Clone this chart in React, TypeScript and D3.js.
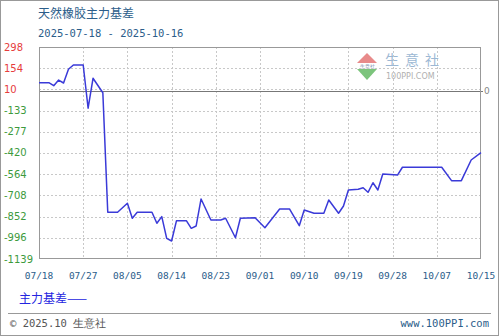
import React from "react";
import * as d3 from "d3";

const title = "天然橡胶主力基差";
const subtitle = "2025-07-18 - 2025-10-16";
const startDate = "2025-07-18";

const dates = [
  "2025-07-18", "2025-07-20", "2025-07-21", "2025-07-22", "2025-07-23", "2025-07-24", "2025-07-25",
  "2025-07-27", "2025-07-28", "2025-07-29", "2025-07-31", "2025-08-01", "2025-08-03", "2025-08-05",
  "2025-08-06", "2025-08-07", "2025-08-10", "2025-08-11", "2025-08-12", "2025-08-13", "2025-08-14",
  "2025-08-15", "2025-08-17", "2025-08-18", "2025-08-19", "2025-08-20", "2025-08-22", "2025-08-24",
  "2025-08-25", "2025-08-27", "2025-08-28", "2025-08-31", "2025-09-02", "2025-09-05", "2025-09-07",
  "2025-09-09", "2025-09-10", "2025-09-12", "2025-09-14", "2025-09-15", "2025-09-17", "2025-09-18",
  "2025-09-19", "2025-09-21", "2025-09-22", "2025-09-23", "2025-09-24", "2025-09-25", "2025-09-26",
  "2025-09-29", "2025-09-30", "2025-10-08", "2025-10-10", "2025-10-12", "2025-10-14", "2025-10-16",
];
const values = [
  56, 56, 36, 74, 54, 147, 176,
  176, -117, 86, -12, -822, -822, -761,
  -863, -822, -822, -897, -852, -999, -1017,
  -879, -879, -931, -915, -732, -875, -875,
  -863, -995, -863, -859, -927, -800, -800,
  -913, -807, -829, -829, -739, -829, -780,
  -671, -666, -656, -687, -622, -671, -563,
  -570, -517, -517, -608, -608, -468, -418,
];

const yTicks = [298, 154, 10, -133, -277, -420, -564, -708, -852, -996, -1139];
const xTickLabels = ["07/18", "07/27", "08/05", "08/14", "08/23", "09/01", "09/10", "09/19", "09/28", "10/07", "10/15"];
const xTickDays = [0, 9, 18, 27, 36, 45, 54, 63, 72, 81, 90];
const legendLabel = "主力基差——";
const footerLeft = "© 2025.10 生意社";
const footerRight = "www.100PPI.com";

export default function App() {
  const W = 499, H = 336;
  const L = 39, R = 481, T = 47, B = 259;
  const parse = d3.timeParse("%Y-%m-%d");
  const start = parse(startDate)!;
  const days = dates.map((d) => d3.timeDay.count(start, parse(d)!));
  const x = d3.scaleLinear().domain([0, 90]).range([L, R]);
  const y = d3.scaleLinear().domain([-1139, 298]).range([B, T]);
  const line = d3.line<number>().x((_, i) => x(days[i])).y((v) => y(v));
  const path = line(values) || "";
  const mono = "'DejaVu Sans Mono', 'Liberation Mono', monospace";
  const cjk = "'Noto Sans CJK SC', sans-serif";

  return (
    <div style={{ position: "absolute", left: 0, top: 0 }}>
      <svg width={W} height={H} style={{ display: "block", background: "#fff" }}>
        <rect x={0.5} y={0.5} width={W - 1} height={H - 1} fill="#fff" stroke="#999" />
        <text x={38} y={18} fontSize={12} fontFamily={cjk} fill="#2b5d8a">{title}</text>
        <text x={38} y={37} fontSize={10.5} fontFamily={mono} fill="#2b5d8a">{subtitle}</text>

        {/* watermark */}
        <g>
          <path d="M357,63 L367,53 L377,63 Z" fill="#e88a8a" />
          <path d="M357,69 L377,69 L367,80 Z" fill="#7cc47c" />
          <text x={367} y={67.5} fontSize={5} textAnchor="middle" fill="#7a8aa8" fontFamily={mono}>生意社</text>
          <text x={385} y={65} fontSize={14} fontFamily={cjk} fill="#9cb8d4" letterSpacing={6}>生意社</text>
          <text x={386} y={79} fontSize={8} fontFamily="'DejaVu Sans', sans-serif" fill="#b0b0b0">100PPI.COM</text>
        </g>

        {/* grid */}
        {yTicks.slice(1, -1).map((t) => (
          <line key={"h" + t} x1={L} x2={R} y1={Math.round(y(t)) + 0.5} y2={Math.round(y(t)) + 0.5}
            stroke="#c8c8c8" strokeDasharray="2,2" />
        ))}
        {xTickDays.slice(1, -1).map((d) => (
          <line key={"v" + d} x1={Math.round(x(d)) + 0.5} x2={Math.round(x(d)) + 0.5} y1={T} y2={B}
            stroke="#c8c8c8" strokeDasharray="2,2" />
        ))}
        {/* zero line */}
        <line x1={L} x2={R + 2} y1={Math.round(y(0)) + 0.5} y2={Math.round(y(0)) + 0.5} stroke="#777" />
        <text x={484} y={y(0)} dy="0.35em" fontSize={9} fill="#888" fontFamily="'DejaVu Sans', sans-serif">0</text>

        <rect x={L + 0.5} y={T + 0.5} width={R - L - 1} height={B - T - 1} fill="none" stroke="#999" />

        {yTicks.map((t) => (
          <text key={"yl" + t} x={4} y={y(t)} dy="0.35em" fontSize={10}
            fontFamily="'DejaVu Sans', sans-serif" fill={t >= 0 ? "#e63c3c" : "#3c9a3c"}>{t}</text>
        ))}
        {xTickDays.map((d, i) => (
          <text key={"xl" + d} x={x(d)} y={279} textAnchor="middle" fontSize={9.5} fontFamily={mono} fill="#2b5d8a">
            {xTickLabels[i]}
          </text>
        ))}

        <path d={path} fill="none" stroke="#3a3ad8" strokeWidth={1.5} strokeLinejoin="round" />

        <text x={19} y={303} fontSize={12} fontFamily={cjk} fill="#2424e0">{legendLabel}</text>

        <line x1={8} x2={491} y1={313.5} y2={313.5} stroke="#999" />
        <text x={10} y={327} fontSize={10.5} fontFamily={mono} fill="#555">{footerLeft}</text>
        <text x={489} y={327} textAnchor="end" fontSize={10.5} fontFamily={mono} fill="#2b5d8a">{footerRight}</text>
      </svg>
    </div>
  );
}
